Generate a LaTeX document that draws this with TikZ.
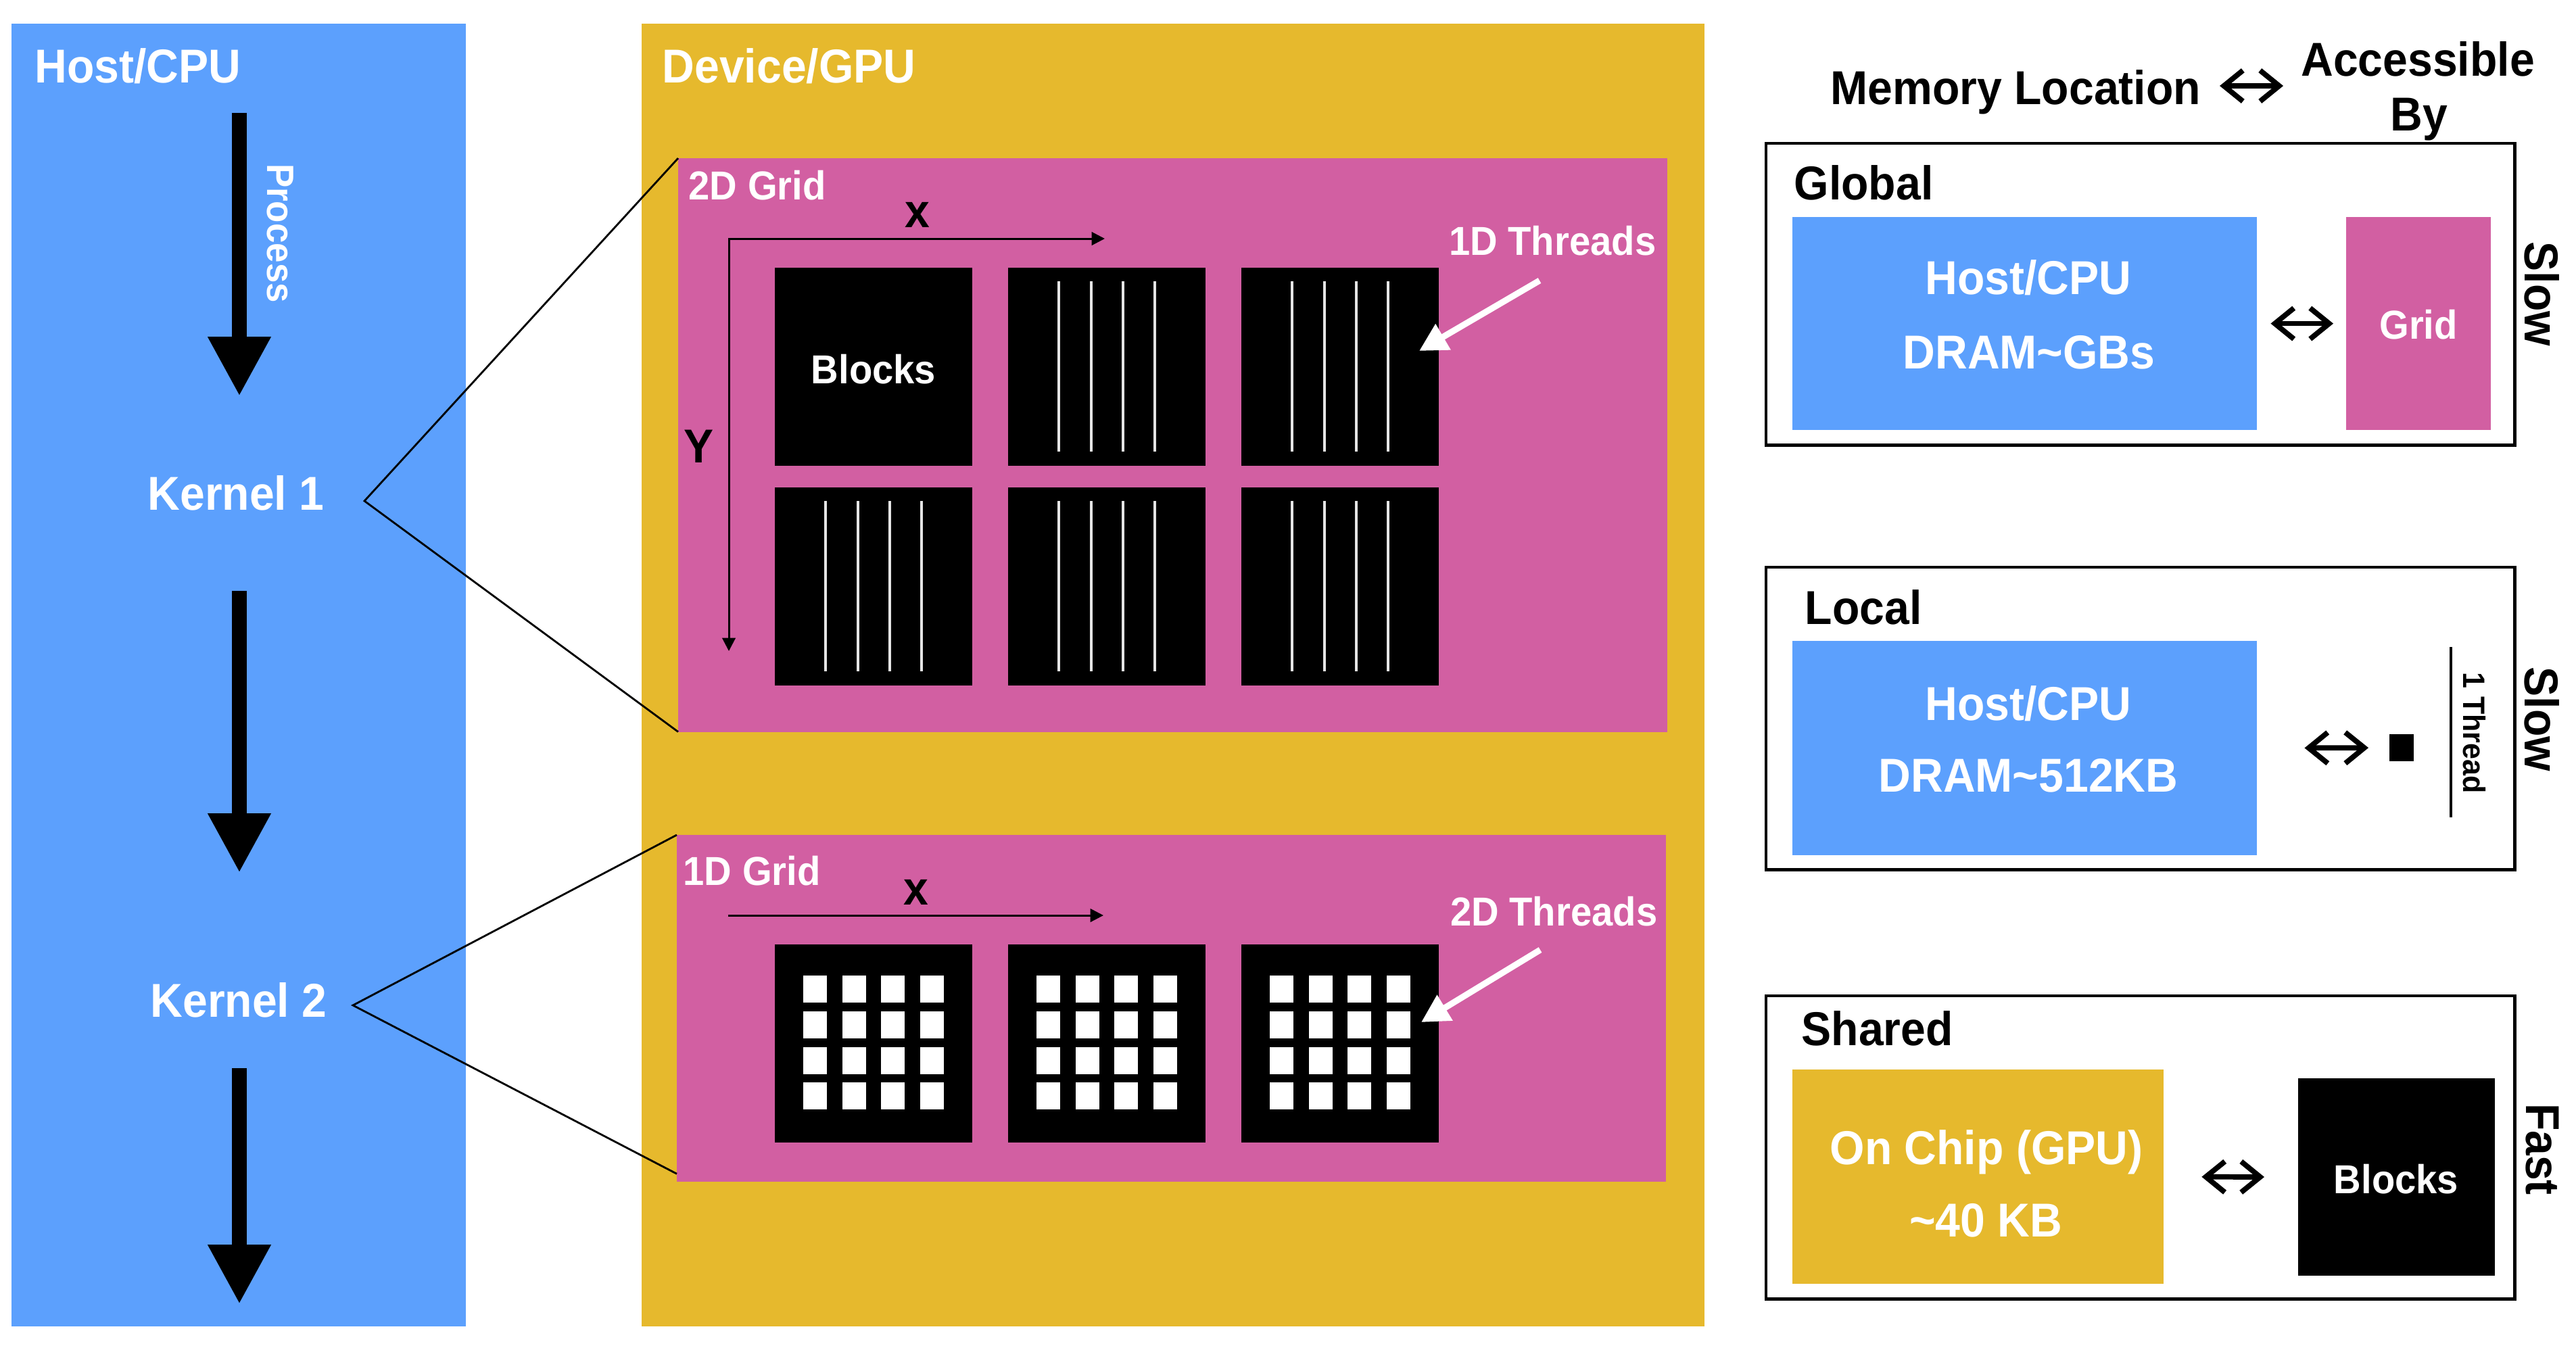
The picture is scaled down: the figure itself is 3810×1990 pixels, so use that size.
\documentclass[tikz,border=0pt]{standalone}
\usepackage{fontspec}
\setmainfont{Liberation Sans}[FakeStretch=0.94]
\usetikzlibrary{arrows.meta}
\definecolor{hblue}{RGB}{92,160,253}
\definecolor{dyellow}{RGB}{230,185,45}
\definecolor{gpink}{RGB}{210,95,162}
\newcommand\myfs[1]{\fontsize{#1}{#1}\selectfont}
\begin{document}
\begin{tikzpicture}[x=0.01cm,y=-0.01cm,
  panel/.style={anchor=north west, inner sep=0pt, outer sep=0pt},
  blk/.style={panel, fill=black, minimum width=2.92cm, minimum height=2.93cm},
  wt/.style={inner sep=0pt, text=white, font=\bfseries\myfs{#1}},
  bt/.style={inner sep=0pt, text=black, font=\bfseries\myfs{#1}},
  bigarrow/.style={line width=6.5pt, -{Triangle[length=25pt, width=24.8pt]}},
  conn/.style={line width=0.8pt, black},
  axis/.style={line width=0.85pt, {Triangle[length=5.5pt, width=5.5pt]}-{Triangle[length=5.5pt, width=5.5pt]}},
  xaxis/.style={line width=0.85pt, -{Triangle[length=5.5pt, width=5.5pt]}},
  warrow/.style={white, line width=2.6pt, -{Triangle[length=11.7pt, width=12pt]}},
  thread/.style={line width=1.1pt, black!10},
  dbl/.style={line width=2.2pt, {Straight Barb[length=8pt, width=13pt]}-{Straight Barb[length=8pt, width=13pt]}},
  mbox/.style={panel, draw=black, line width=1.3pt, minimum width=11.07cm}
]
\useasboundingbox (0,0) rectangle (3810,1990);
\fill[white] (0,0) rectangle (3810,1990);

% ---------------- Host / CPU ----------------
\node[panel, fill=hblue, minimum width=6.72cm, minimum height=19.26cm] (host) at (17,35) {};
\node[wt=20, anchor=base west] (hosttitle) at (51,122) {Host/CPU};
\coordinate (a1s) at (354,167); \coordinate (a1e) at (354,586);
\coordinate (a2s) at (354,874); \coordinate (a2e) at (354,1291);
\coordinate (a3s) at (354,1580); \coordinate (a3e) at (354,1929);
\draw[bigarrow] (a1s) -- (a1e);
\draw[bigarrow] (a2s) -- (a2e);
\draw[bigarrow] (a3s) -- (a3e);
\node[wt=16, rotate=-90] (proc) at (415,345) {Process};
\node[wt=20, anchor=base] (k1) at (349,754) {Kernel 1};
\node[wt=20, anchor=base] (k2) at (353,1504) {Kernel 2};
\coordinate (k1v) at (539,741);
\coordinate (k2v) at (522,1487);

% ---------------- Device / GPU ----------------
\node[panel, fill=dyellow, minimum width=15.71cm, minimum height=19.26cm] (dev) at (949,35) {};
\node[wt=20, anchor=base west] (devtitle) at (979,122) {Device/GPU};

\node[panel, fill=gpink, minimum width=14.62cm, minimum height=8.48cm] (g2) at (1003,234) {};
\node[panel, fill=gpink, minimum width=14.62cm, minimum height=5.13cm] (g1) at (1001,1235) {};

\draw[conn] (g2.north west) -- (k1v) -- (g2.south west);
\draw[conn] (g1.north west) -- (k2v) -- ([yshift=0.12cm]g1.south west);

% 2D grid blocks
\foreach \n/\bx/\by in {b11/1146/396, b12/1491/396, b13/1836/396, b21/1146/721, b22/1491/721, b23/1836/721}
  \node[blk] (\n) at (\bx,\by) {};
\foreach \bx/\by in {1491/396, 1836/396, 1146/721, 1491/721, 1836/721}
  \foreach \o in {75,123,170,217}
    \draw[thread] (\bx+\o,\by+20) -- (\bx+\o,\by+272);
\node[wt=17, anchor=base] (blocks1) at (1292,567) {Blocks};
\node[wt=17, anchor=base west] (g2title) at (1018,295) {2D Grid};
\coordinate (xe2) at (1634,353); \coordinate (org2) at (1078,353); \coordinate (ye2) at (1078,963);
\draw[axis] (xe2) -- (org2) -- (ye2);
\node[bt=20, anchor=base] (xl2) at (1357,336) {x};
\node[bt=20, anchor=base] (yl2) at (1034,684) {Y};
\node[wt=17, anchor=base east] (t1) at (2450,377) {1D Threads};
\coordinate (w1s) at (2277,415); \coordinate (w1e) at (2099,519);
\draw[warrow] (w1s) -- (w1e);

% 1D grid blocks
\foreach \n/\bx in {c1/1146, c2/1491, c3/1836}
  \node[blk] (\n) at (\bx,1397) {};
\foreach \bx in {1146,1491,1836}
  \foreach \i in {42,100,157,215}
    \foreach \j in {46,99,152,204}
      \fill[white] (\bx+\i,1397+\j) rectangle ++(35,40);
\node[wt=17, anchor=base west] (g1title) at (1010,1309) {1D Grid};
\coordinate (xs1) at (1077,1354); \coordinate (xe1) at (1632,1354);
\draw[xaxis] (xs1) -- (xe1);
\node[bt=20, anchor=base] (xl1) at (1355,1338) {x};
\node[wt=17, anchor=base east] (t2) at (2452,1369) {2D Threads};
\coordinate (w2s) at (2278,1405); \coordinate (w2e) at (2102,1512);
\draw[warrow] (w2s) -- (w2e);

% ---------------- Memory table ----------------
\node[bt=20, anchor=base west] (memloc) at (2707,154) {Memory Location};
\node[bt=20, anchor=base] (acc) at (3576,112) {Accessible};
\node[bt=20, anchor=base] (by) at (3578,193) {By};
\coordinate (hdl) at (3283,127); \coordinate (hdr) at (3377,127);
\draw[dbl] (hdl) -- (hdr);

% Global
\node[mbox, minimum height=4.46cm] (gbox) at (2612,212) {};
\node[bt=20, anchor=base west] (gtitle) at (2653,295) {Global};
\node[panel, fill=hblue, minimum width=6.87cm, minimum height=3.15cm] (gblue) at (2651,321) {};
\node[panel, fill=gpink, minimum width=2.14cm, minimum height=3.15cm] (ggrid) at (3470,321) {};
\node[wt=20, anchor=base] (gh) at (3000,435) {Host/CPU};
\node[wt=20, anchor=base] (gd) at (3001,545) {DRAM\char`\~GBs};
\node[wt=17, anchor=base] (gg) at (3577,501) {Grid};
\draw[dbl, shorten <=0.2cm, shorten >=0.19cm] (gblue.east) -- (ggrid.west);
\node[bt=20, rotate=-90] (gslow) at (3760,435) {Slow};

% Local
\node[mbox, minimum height=4.47cm] (lbox) at (2612,839) {};
\node[bt=20, anchor=base west] (ltitle) at (2669,923) {Local};
\node[panel, fill=hblue, minimum width=6.87cm, minimum height=3.17cm] (lblue) at (2651,948) {};
\node[panel, fill=black, minimum width=0.36cm, minimum height=0.40cm] (lsq) at (3534,1086) {};
\node[wt=20, anchor=base] (lh) at (3000,1065) {Host/CPU};
\node[wt=20, anchor=base] (ld) at (3000,1171) {DRAM\char`\~512KB};
\draw[dbl, shorten <=0.7cm, shorten >=0.31cm] (lblue.east) -- (lsq.west);
\coordinate (lt1) at (3625,957); \coordinate (lt2) at (3625,1209);
\draw[line width=1.2pt] (lt1) -- (lt2);
\node[bt=13, rotate=-90] (lthr) at (3660,1084) {1 Thread};
\node[bt=20, rotate=-90] (lslow) at (3760,1064) {Slow};

% Shared
\node[mbox, minimum height=4.48cm] (sbox) at (2612,1473) {};
\node[bt=20, anchor=base west] (stitle) at (2664,1546) {Shared};
\node[panel, fill=dyellow, minimum width=5.49cm, minimum height=3.17cm] (syel) at (2651,1582) {};
\node[panel, fill=black, minimum width=2.91cm, minimum height=2.92cm] (sblk) at (3399,1595) {};
\node[wt=20, anchor=base] (so) at (2938,1722) {On Chip (GPU)};
\node[wt=20, anchor=base] (sk) at (2937,1829) {\char`\~40 KB};
\node[wt=17, anchor=base] (sb) at (3544,1765) {Blocks};
\draw[dbl, shorten <=0.56cm, shorten >=0.5cm] (syel.east) -- (sblk.west);
\node[bt=20, rotate=-90] (sfast) at (3760,1700) {Fast};
\end{tikzpicture}
\end{document}
